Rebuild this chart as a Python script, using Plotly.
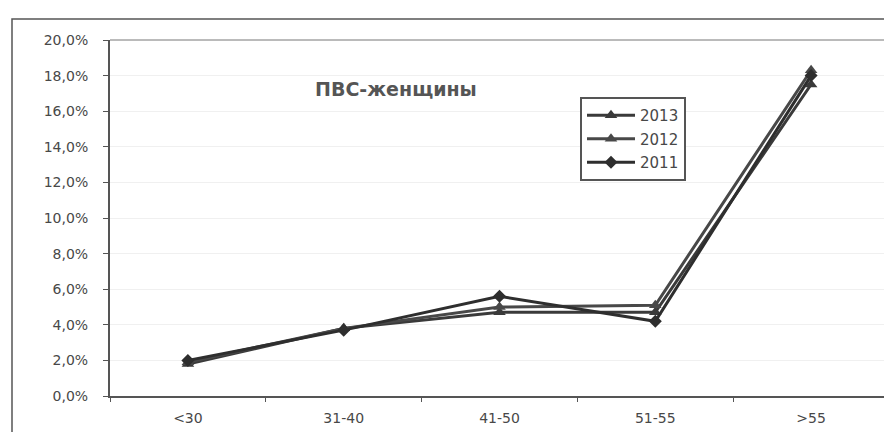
import plotly.graph_objects as go

categories = ["<30", "31-40", "41-50", "51-55", ">55"]
y2013 = [0.018, 0.038, 0.047, 0.047, 0.175]
y2012 = [0.019, 0.038, 0.050, 0.051, 0.183]
y2011 = [0.020, 0.037, 0.056, 0.042, 0.180]
series_names = ["2013", "2012", "2011"]
ytick_vals = [0.0, 0.02, 0.04, 0.06, 0.08, 0.10, 0.12, 0.14, 0.16, 0.18, 0.20]
ytick_text = ["0,0%", "2,0%", "4,0%", "6,0%", "8,0%", "10,0%", "12,0%", "14,0%", "16,0%", "18,0%", "20,0%"]
title_text = "ПВС-женщины"

FONT = "DejaVu Sans, Arial, sans-serif"

fig = go.Figure()
styles = [
    (y2013, "triangle-up", 11, "#3a3a3a"),
    (y2012, "triangle-up", 11, "#484848"),
    (y2011, "diamond", 10, "#2e2e2e"),
]
for name, (vals, sym, size, col) in zip(series_names, styles):
    fig.add_trace(go.Scatter(
        x=categories, y=vals, name=name, mode="lines+markers",
        legendgroup=name,
        line=dict(color=col, width=3),
        marker=dict(symbol=sym, size=size, color=col),
    ))

# page offset (body margin)
OFF = 8
W, H = 884, 424
L, R, T, B = 102, 3, 32, 36
pw, ph = W - L - R, H - T - B

def px(x):
    return (x - OFF - L) / pw

def py(y):
    return (H - B - (y - OFF)) / ph

fig.update_layout(
    width=W, height=H,
    margin=dict(l=L, r=R, t=T, b=B),
    paper_bgcolor="white", plot_bgcolor="white",
    font=dict(family=FONT, size=14, color="#484848"),
    showlegend=True,
    legend=dict(
        x=px(580), y=py(97), xanchor="left", yanchor="top",
        bordercolor="#555", borderwidth=2, bgcolor="white",
        font=dict(size=15, color="#484848"),
        tracegroupgap=1, itemwidth=48,
    ),
    xaxis=dict(
        type="category", range=[-0.5, 4.5],
        showline=True, linecolor="#555", linewidth=2,
        ticks="outside", ticklen=4, tickcolor="#555", tickson="boundaries",
        showgrid=False, mirror=False,
        ticklabelstandoff=8,
        tickfont=dict(family=FONT, size=14, color="#484848"),
    ),
    yaxis=dict(
        range=[0, 0.2], tickvals=ytick_vals, ticktext=ytick_text,
        showline=True, linecolor="#555", linewidth=2,
        ticks="outside", ticklen=5, tickcolor="#555",
        ticklabelstandoff=12,
        showgrid=True, gridcolor="#f0f0f0", gridwidth=1,
        zeroline=False,
        tickfont=dict(family=FONT, size=14, color="#484848"),
    ),
    shapes=[
        dict(type="rect", xref="paper", yref="paper",
             x0=px(12), x1=px(890), y0=py(450), y1=py(19),
             line=dict(color="#555", width=1.5), fillcolor="rgba(0,0,0,0)", layer="below"),
        dict(type="line", xref="paper", yref="paper",
             x0=0, x1=1, y0=1, y1=1, line=dict(color="#777", width=1)),
        dict(type="line", xref="paper", yref="paper",
             x0=1, x1=1, y0=0, y1=1, line=dict(color="#999", width=1)),
    ],
    annotations=[
        dict(text="<b>" + title_text + "</b>", xref="paper", yref="paper",
             x=px(313), y=py(89), xanchor="left", yanchor="middle", showarrow=False,
             font=dict(family=FONT, size=19, color="#555")),
    ],
)

fig.write_html("out.html")
